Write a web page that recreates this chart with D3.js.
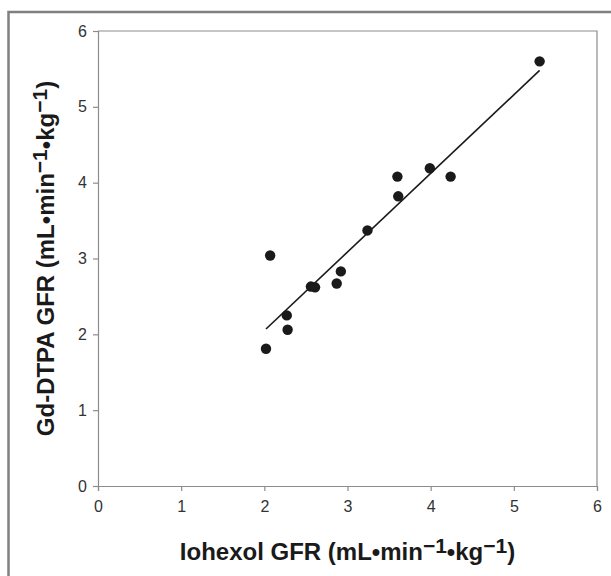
<!DOCTYPE html>
<html lang="en">
<head>
  <meta charset="UTF-8">
  <title>Gd-DTPA vs Iohexol GFR</title>
  <script src="https://d3js.org/d3.v7.min.js"></script>
  <style>
    body { margin: 0; background: #fff; }
    svg { display: block; font-family: 'Liberation Sans', Arial, sans-serif; }
  </style>
</head>
<body>
  <div id="chart"></div>
  <script>
    // values
    const iohexol = [2.02, 2.07, 2.27, 2.28, 2.56, 2.61, 2.87, 2.92, 3.24, 3.60, 3.61, 3.99, 4.24, 5.31];
    const gdDtpa  = [1.81, 3.04, 2.25, 2.06, 2.63, 2.62, 2.67, 2.83, 3.37, 4.08, 3.82, 4.19, 4.08, 5.60];
    const fitX = [2.02, 5.31];
    const fitY = [2.07, 5.48];
    const ticks = [0, 1, 2, 3, 4, 5, 6];

    const width = 611, height = 576;
    const margin = { top: 31, right: 14, bottom: 90, left: 98 };

    const svg = d3.select("#chart").append("svg")
      .attr("width", width)
      .attr("height", height);

    // outer frame
    svg.append("rect")
      .attr("x", 8.5).attr("y", 12)
      .attr("width", 640).attr("height", 600)
      .attr("fill", "none")
      .attr("stroke", "#808080")
      .attr("stroke-width", 2.5);

    const x = d3.scaleLinear().domain([0, 6]).range([margin.left, width - margin.right]);
    const y = d3.scaleLinear().domain([0, 6]).range([height - margin.bottom, margin.top]);

    // plot area border (top + right)
    svg.append("path")
      .attr("d", `M${x(0)},${y(6)}H${x(6)}V${y(0)}`)
      .attr("fill", "none")
      .attr("stroke", "#8c8c8c")
      .attr("stroke-width", 1.2);

    const xAxis = svg.append("g")
      .attr("transform", `translate(0,${y(0)})`)
      .call(d3.axisBottom(x).tickValues(ticks).tickSize(5).tickPadding(10).tickFormat(d3.format("d")));
    const yAxis = svg.append("g")
      .attr("transform", `translate(${x(0)},0)`)
      .call(d3.axisLeft(y).tickValues(ticks).tickSize(5).tickPadding(6).tickFormat(d3.format("d")));

    [xAxis, yAxis].forEach(g => {
      g.select(".domain").attr("stroke", "#8c8c8c").attr("stroke-width", 1.2);
      g.selectAll(".tick line").attr("stroke", "#8c8c8c").attr("stroke-width", 1.2);
      g.selectAll(".tick text")
        .attr("fill", "#333")
        .style("font-size", "16px")
        .style("font-family", "'Liberation Sans', Arial, sans-serif");
    });

    // regression line
    svg.append("line")
      .attr("x1", x(fitX[0])).attr("y1", y(fitY[0]))
      .attr("x2", x(fitX[1])).attr("y2", y(fitY[1]))
      .attr("stroke", "#1a1a1a")
      .attr("stroke-width", 1.6);

    // points
    svg.selectAll("circle.pt")
      .data(iohexol.map((v, i) => [v, gdDtpa[i]]))
      .join("circle")
      .attr("class", "pt")
      .attr("cx", d => x(d[0]))
      .attr("cy", d => y(d[1]))
      .attr("r", 5.2)
      .attr("fill", "#1a1a1a");

    // axis titles with superscripts
    function title(sel, base) {
      sel.append("tspan").text(base + " (mL\u2022min");
      sel.append("tspan").text("\u22121").attr("dy", -7).style("font-size", "21px");
      sel.append("tspan").text("\u2022kg").attr("dy", 7);
      sel.append("tspan").text("\u22121").attr("dy", -7).style("font-size", "21px");
      sel.append("tspan").text(")").attr("dy", 7);
    }

    const xt = svg.append("text")
      .attr("x", (x(0) + x(6)) / 2)
      .attr("y", 560)
      .attr("text-anchor", "middle")
      .attr("fill", "#1a1a1a")
      .style("font-size", "24px")
      .style("font-weight", "bold");
    title(xt, "Iohexol GFR");

    const yt = svg.append("text")
      .attr("transform", `translate(54,${(y(0) + y(6)) / 2}) rotate(-90)`)
      .attr("text-anchor", "middle")
      .attr("fill", "#1a1a1a")
      .style("font-size", "24px")
      .style("font-weight", "bold");
    title(yt, "Gd-DTPA GFR");
  </script>
</body>
</html>
